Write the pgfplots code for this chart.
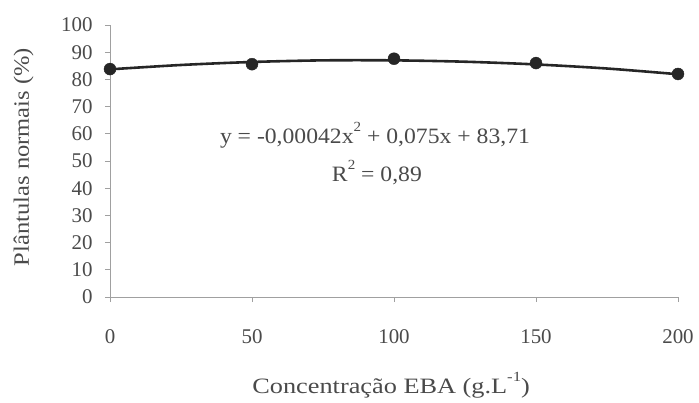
\documentclass[border=0pt]{standalone}
\usepackage{fontspec}
\setmainfont{Liberation Serif}
\usepackage{pgfplots}
\pgfplotsset{compat=1.18}

\definecolor{txt}{HTML}{4A4A4A}
\definecolor{axisgray}{HTML}{A0A0A0}
\definecolor{curve}{HTML}{262626}

\newcommand{\sq}{\raisebox{0.55em}{\fontsize{14}{14}\selectfont 2}}

\begin{document}
\begin{tikzpicture}
\useasboundingbox (-110bp,-106bp) rectangle (589bp,297bp);
\begin{axis}[
    at={(0,0)}, anchor=origin,
    scale only axis,
    width=568bp, height=272bp,
    xmin=0, xmax=200, ymin=0, ymax=100,
    axis x line=bottom, axis y line=left,
    axis line style={-, axisgray, line width=0.8pt},
    tick style={axisgray, line width=0.8pt},
    tick align=outside,
    major tick length=5bp,
    xtick={0,50,100,150,200},
    ytick={0,10,...,100},
    /pgf/number format/assume math mode=true,
    ticklabel style={font=\fontsize{21}{21}\selectfont, text=txt},
    xticklabel style={yshift=-24bp},
    yticklabel style={xshift=-9bp},
    xlabel={Concentração EBA (g.L\raisebox{0.55em}{\fontsize{14}{14}\selectfont -1})},
    ylabel={Plântulas normais (\%)},
    label style={font=\fontsize{22}{22}\selectfont, text=txt},
    xlabel style={at={(axis description cs:0.495,-0.324)}, anchor=center, xscale=1.2},
    ylabel style={at={(axis description cs:-0.152,0.515)}, anchor=center, xscale=1.12},
    clip=false,
]
% fitted curve
\addplot[curve, line width=2.6pt, smooth] coordinates {
    (0,83.7) (25,85.3) (50,86.4) (75,87.0) (100,87.0)
    (125,86.5) (150,85.5) (175,84.0) (200,81.9)};
% observed means
\addplot[only marks, mark=*, mark size=6bp, curve] coordinates {
    (0,83.8) (50,85.6) (100,87.6) (150,86.0) (200,82.0)};
\node[text=txt, font=\fontsize{22}{22}\selectfont, xscale=1.08] at (axis cs:93.3,59.6)
    {y = -0,00042x\sq{} + 0,075x + 83,71};
\node[text=txt, font=\fontsize{22}{22}\selectfont, xscale=1.08] at (axis cs:94,45.6)
    {R\sq{} = 0,89};
\end{axis}
\end{tikzpicture}
\end{document}
